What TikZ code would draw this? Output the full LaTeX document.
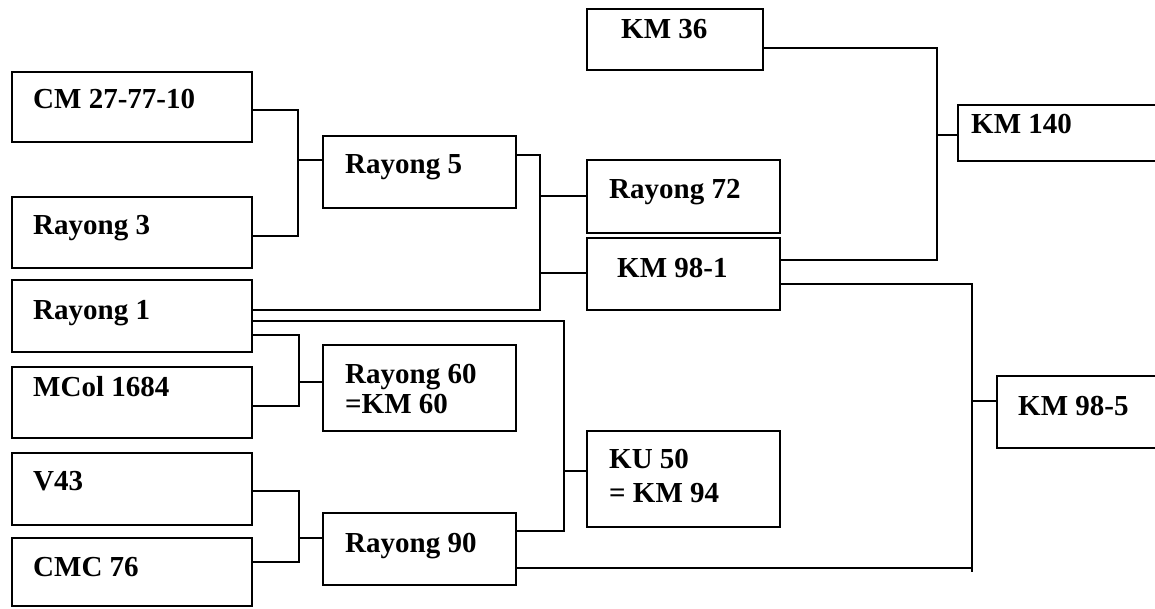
\documentclass[tikz,border=0pt]{standalone}
\usepackage{fontspec}
\setmainfont{Liberation Serif}
\begin{document}
\begin{tikzpicture}[x=1pt,y=-1pt,
  box/.style={draw, line width=1.6pt, inner sep=0pt, outer sep=0pt},
  txt/.style={anchor=base west, inner sep=0pt, align=left, font=\fontsize{29}{32}\selectfont\bfseries},
  link/.style={line width=1.3pt}]
\useasboundingbox (0,0) rectangle (1155,608);
\clip (0,0) rectangle (1155,608);
\newcommand\gbox[5]{\node[box, minimum width={(#4-#2)*1pt}, minimum height={(#5-#3)*1pt}] (#1) at ({(#2+#4)/2},{(#3+#5)/2}) {};}
% boxes
\gbox{cm}{12}{72}{252}{142}
\gbox{rthree}{12}{197}{252}{268}
\gbox{rone}{12}{280}{252}{352}
\gbox{mcol}{12}{367}{252}{438}
\gbox{vff}{12}{453}{252}{525}
\gbox{cmc}{12}{538}{252}{606}
\gbox{rfive}{323}{136}{516}{208}
\gbox{rsixty}{323}{345}{516}{431}
\gbox{rninety}{323}{513}{516}{585}
\gbox{rsvt}{587}{160}{780}{233}
\gbox{kmnine}{587}{238}{780}{310}
\gbox{ku}{587}{431}{780}{527}
\gbox{kmts}{587}{9}{763}{70}
\gbox{kmofz}{958}{105}{1175}{161}
\gbox{kmnf}{997}{376}{1175}{448}
% texts
\node[txt] at (33,108) {CM 27-77-10};
\node[txt] at (33,234) {Rayong 3};
\node[txt] at (33,319) {Rayong 1};
\node[txt] at (33,396) {MCol 1684};
\node[txt] at (33,490) {V43};
\node[txt] at (33,576) {CMC 76};
\node[txt] at (345,173) {Rayong 5};
\node[txt, font=\fontsize{29}{30}\selectfont\bfseries] at (345,413) {Rayong 60\\=KM 60};
\node[txt] at (345,552) {Rayong 90};
\node[txt] at (609,198) {Rayong 72};
\node[txt] at (617,277) {KM 98-1};
\node[txt] at (621,38) {KM 36};
\node[txt] at (971,133) {KM 140};
\node[txt] at (1018,415) {KM 98-5};
\node[txt, font=\fontsize{29}{33.5}\selectfont\bfseries] at (609,502) {KU 50\\= KM 94};
% junction coordinates
\coordinate (aT) at (298,110); \coordinate (aM) at (298,160); \coordinate (aB) at (298,236);
\coordinate (bT) at (540,155); \coordinate (bU) at (540,196); \coordinate (bL) at (540,273); \coordinate (bB) at (540,310);
\coordinate (cT) at (564,321); \coordinate (cM) at (564,471); \coordinate (cB) at (564,531);
\coordinate (dT) at (299,335); \coordinate (dM) at (299,382); \coordinate (dB) at (299,406);
\coordinate (eT) at (299,491); \coordinate (eM) at (299,538); \coordinate (eB) at (299,562);
\coordinate (fT) at (937,48); \coordinate (fM) at (937,135); \coordinate (fB) at (937,260);
\coordinate (gT) at (972,284); \coordinate (gM) at (972,401); \coordinate (gB) at (972,572); \coordinate (gH) at (972,568);
% connectors
\draw[link] (cm.east |- aT) -- (aT) -- (aB) -- (rthree.east |- aB);
\draw[link] (aM) -- (rfive.west |- aM);
\draw[link] (rfive.east |- bT) -- (bT) -- (bB) -- (rone.east |- bB);
\draw[link] (bU) -- (rsvt.west |- bU);
\draw[link] (bL) -- (kmnine.west |- bL);
\draw[link] (rone.east |- cT) -- (cT) -- (cB) -- (rninety.east |- cB);
\draw[link] (cM) -- (ku.west |- cM);
\draw[link] (rone.east |- dT) -- (dT) -- (dB) -- (mcol.east |- dB);
\draw[link] (dM) -- (rsixty.west |- dM);
\draw[link] (vff.east |- eT) -- (eT) -- (eB) -- (cmc.east |- eB);
\draw[link] (eM) -- (rninety.west |- eM);
\draw[link] (kmts.east |- fT) -- (fT) -- (fB) -- (kmnine.east |- fB);
\draw[link] (fM) -- (kmofz.west |- fM);
\draw[link] (kmnine.east |- gT) -- (gT) -- (gB);
\draw[link] (rninety.east |- gH) -- (gH);
\draw[link] (gM) -- (kmnf.west |- gM);
\end{tikzpicture}
\end{document}
